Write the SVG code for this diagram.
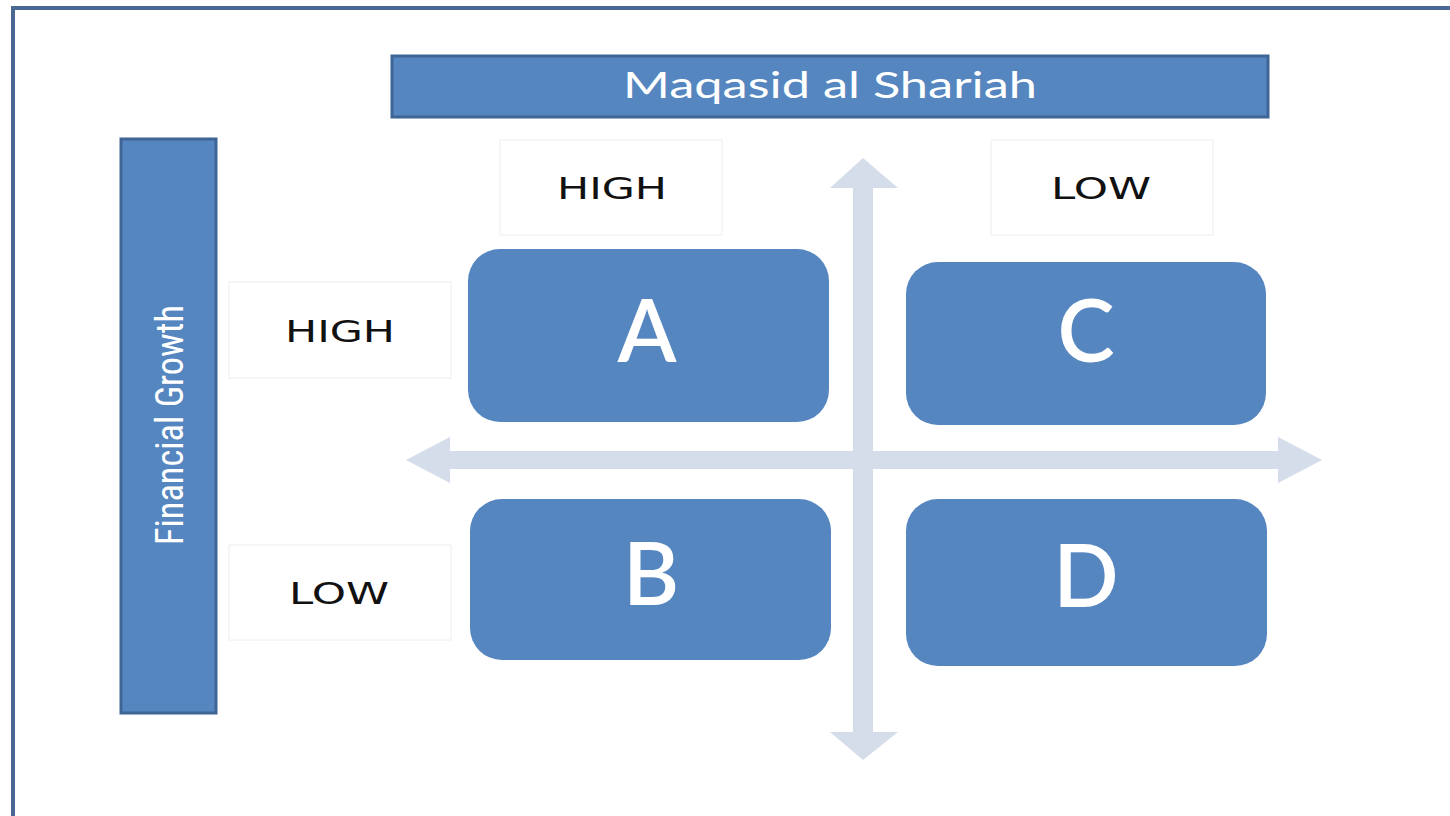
<svg xmlns="http://www.w3.org/2000/svg" width="1450" height="816" viewBox="0 0 1450 816">
<style>
.bar{fill:#5586c0;stroke:#3e6595;stroke-width:3}
.quad{fill:#5586c0}
.lbl{fill:#fff;stroke:#eeeeee;stroke-width:1}
.lt{font-family:"DejaVu Sans",sans-serif;font-size:31px;fill:#111;text-anchor:middle}
.qt{font-family:"Lato","Open Sans",sans-serif;font-size:86px;fill:#fff;text-anchor:middle}
.arrow{fill:#d5dcea}
</style>
<rect x="0" y="0" width="1450" height="816" fill="#fff"/>
<rect x="13" y="8" width="1460" height="830" fill="none" stroke="#4b6894" stroke-width="4"/>
<g id="connectors">
<path class="arrow" d="M863,158 L898,188 L873,188 L873,451 L1278,451 L1278,437 L1322,460 L1278,483 L1278,469 L873,469 L873,732 L898,732 L863,760 L830,732 L853,732 L853,469 L450,469 L450,483 L406,460 L450,437 L450,451 L853,451 L853,188 L830,188 Z"/>
</g>
<g id="maqasid">
<rect class="bar" x="392" y="56" width="876" height="61"/>
<text x="830" y="98" font-family="Lato,'Open Sans',sans-serif" font-size="37" fill="#fff" text-anchor="middle" textLength="414" lengthAdjust="spacingAndGlyphs">Maqasid al Shariah</text>
</g>
<g id="financial">
<rect class="bar" x="121" y="139" width="95" height="574"/>
<text transform="translate(183,425) rotate(-90)" font-family="'Liberation Sans Narrow','Roboto Condensed',Roboto,sans-serif" font-size="38" fill="#fff" text-anchor="middle" textLength="240" lengthAdjust="spacingAndGlyphs">Financial Growth</text>
</g>
<g id="high-top"><rect class="lbl" x="500" y="140" width="222" height="95"/><text class="lt" x="612" y="199" textLength="110" lengthAdjust="spacingAndGlyphs">HIGH</text></g>
<g id="low-top"><rect class="lbl" x="991" y="140" width="222" height="95"/><text class="lt" x="1101" y="199" textLength="100" lengthAdjust="spacingAndGlyphs">LOW</text></g>
<g id="high-left"><rect class="lbl" x="229" y="282" width="222" height="96"/><text class="lt" x="340" y="342" textLength="110" lengthAdjust="spacingAndGlyphs">HIGH</text></g>
<g id="low-left"><rect class="lbl" x="229" y="545" width="222" height="95"/><text class="lt" x="339" y="604" textLength="100" lengthAdjust="spacingAndGlyphs">LOW</text></g>
<g id="A"><rect class="quad" x="468" y="249" width="361" height="173" rx="32"/><text class="qt" x="647" y="362" font-weight="600">A</text></g>
<g id="C"><rect class="quad" x="906" y="262" width="360" height="163" rx="32"/><text class="qt" x="1086" y="362" font-weight="600">C</text></g>
<g id="B"><rect class="quad" x="470" y="499" width="361" height="161" rx="32"/><text class="qt" x="651" y="605" font-weight="600">B</text></g>
<g id="D"><rect class="quad" x="906" y="499" width="361" height="167" rx="32"/><text class="qt" x="1086" y="607" font-weight="600">D</text></g>
</svg>
